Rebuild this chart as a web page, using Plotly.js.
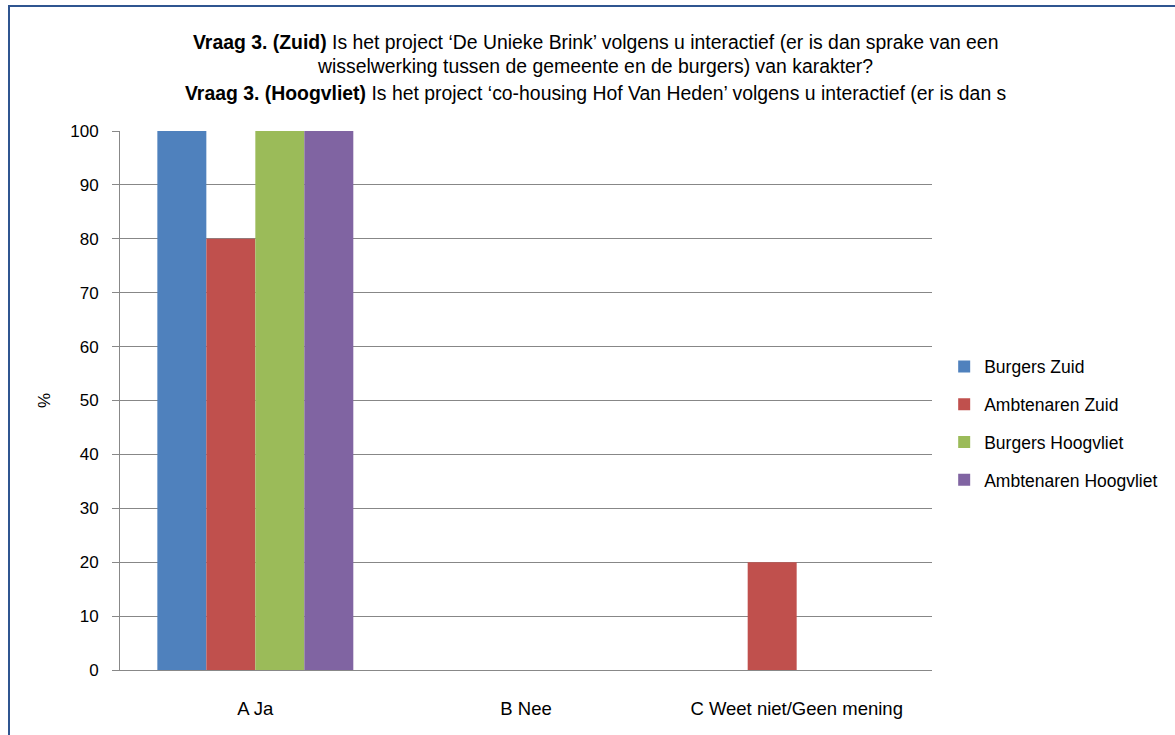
<!DOCTYPE html>
<html>
<head>
<meta charset="utf-8">
<script src="https://cdn.plot.ly/plotly-3.0.1.min.js"></script>
<style>
  html, body { margin: 0; padding: 0; background: #fff; }
  #wrap { position: relative; width: 1175px; height: 735px; overflow: hidden; }
  #chart { position: absolute; left: 0; top: 0; width: 1175px; height: 735px; }
  #frame { position: absolute; left: 8px; top: 5px; width: 1200px; height: 800px;
           border-top: 2px solid #2F5590; border-left: 2px solid #2F5590; pointer-events: none; }
</style>
</head>
<body>
<div id="wrap">
  <div id="chart"></div>
  <div id="frame"></div>
</div>
<script>
const categories = ["A Ja", "B Nee", "C Weet niet/Geen mening"];
const seriesNames = ["Burgers Zuid", "Ambtenaren Zuid", "Burgers Hoogvliet", "Ambtenaren Hoogvliet"];
const burgersZuid = [100, 0, 0];
const ambtenarenZuid = [80, 0, 20];
const burgersHoogvliet = [100, 0, 0];
const ambtenarenHoogvliet = [100, 0, 0];
const colors = ["#4F81BD", "#C0504D", "#9BBB59", "#8064A2"];
const yTicks = [0, 10, 20, 30, 40, 50, 60, 70, 80, 90, 100];
const titleLines = [
  "<b>Vraag 3. (Zuid)</b> Is het project ‘De Unieke Brink’ volgens u interactief (er is dan sprake van een",
  "wisselwerking tussen de gemeente en de burgers) van karakter?",
  "<b>Vraag 3. (Hoogvliet)</b> Is het project ‘co-housing Hof Van Heden’ volgens u interactief (er is dan s"
];

const FONT = "Liberation Sans, Arial, sans-serif";
const allSeries = [burgersZuid, ambtenarenZuid, burgersHoogvliet, ambtenarenHoogvliet];
const traces = allSeries.map((vals, i) => ({
  type: "bar",
  name: seriesNames[i],
  x: categories,
  y: vals,
  marker: { color: colors[i], line: { width: 0 } },
  legendgroup: "g" + i,
  hoverinfo: "x+y+name"
}));

const titleY = [42, 66, 93];
const annotations = titleLines.map((t, i) => ({
  text: t,
  xref: "paper", yref: "paper",
  x: (595 - 120) / (932 - 120),
  y: (670 - titleY[i]) / (670 - 131),
  xanchor: "center", yanchor: "middle",
  showarrow: false,
  font: { family: FONT, size: 19.4, color: "#000" }
}));

const layout = {
  width: 1175, height: 735,
  margin: { l: 120, r: 243, t: 131, b: 65, pad: 0 },
  paper_bgcolor: "#fff", plot_bgcolor: "#fff",
  barmode: "group",
  bargap: 0.276,
  bargroupgap: 0,
  showlegend: true,
  legend: {
    x: 1.015, xanchor: "left", y: 0.458, yanchor: "middle",
    font: { family: FONT, size: 17.5, color: "#000" },
    traceorder: "grouped", tracegroupgap: 12,
    itemwidth: 30, bgcolor: "rgba(0,0,0,0)"
  },
  xaxis: {
    type: "category",
    showgrid: false,
    showline: true, linecolor: "#888", linewidth: 1,
    ticks: "", ticklabelstandoff: 22,
    tickfont: { family: FONT, size: 18.5, color: "#000" },
    zeroline: false, fixedrange: true
  },
  yaxis: {
    range: [0, 100],
    tickvals: yTicks,
    ticktext: yTicks.map(String),
    showgrid: true, gridcolor: "#878787", gridwidth: 1,
    showline: true, linecolor: "#888", linewidth: 1,
    ticks: "outside", ticklen: 7, tickcolor: "#888",
    ticklabelstandoff: 10,
    tickfont: { family: FONT, size: 17, color: "#000" },
    zeroline: false, fixedrange: true,
    title: { text: "%", font: { family: FONT, size: 17, color: "#000" }, standoff: 15 }
  },
  annotations: annotations
};

Plotly.newPlot("chart", traces, layout, { displayModeBar: false, staticPlot: true });
</script>
</body>
</html>
